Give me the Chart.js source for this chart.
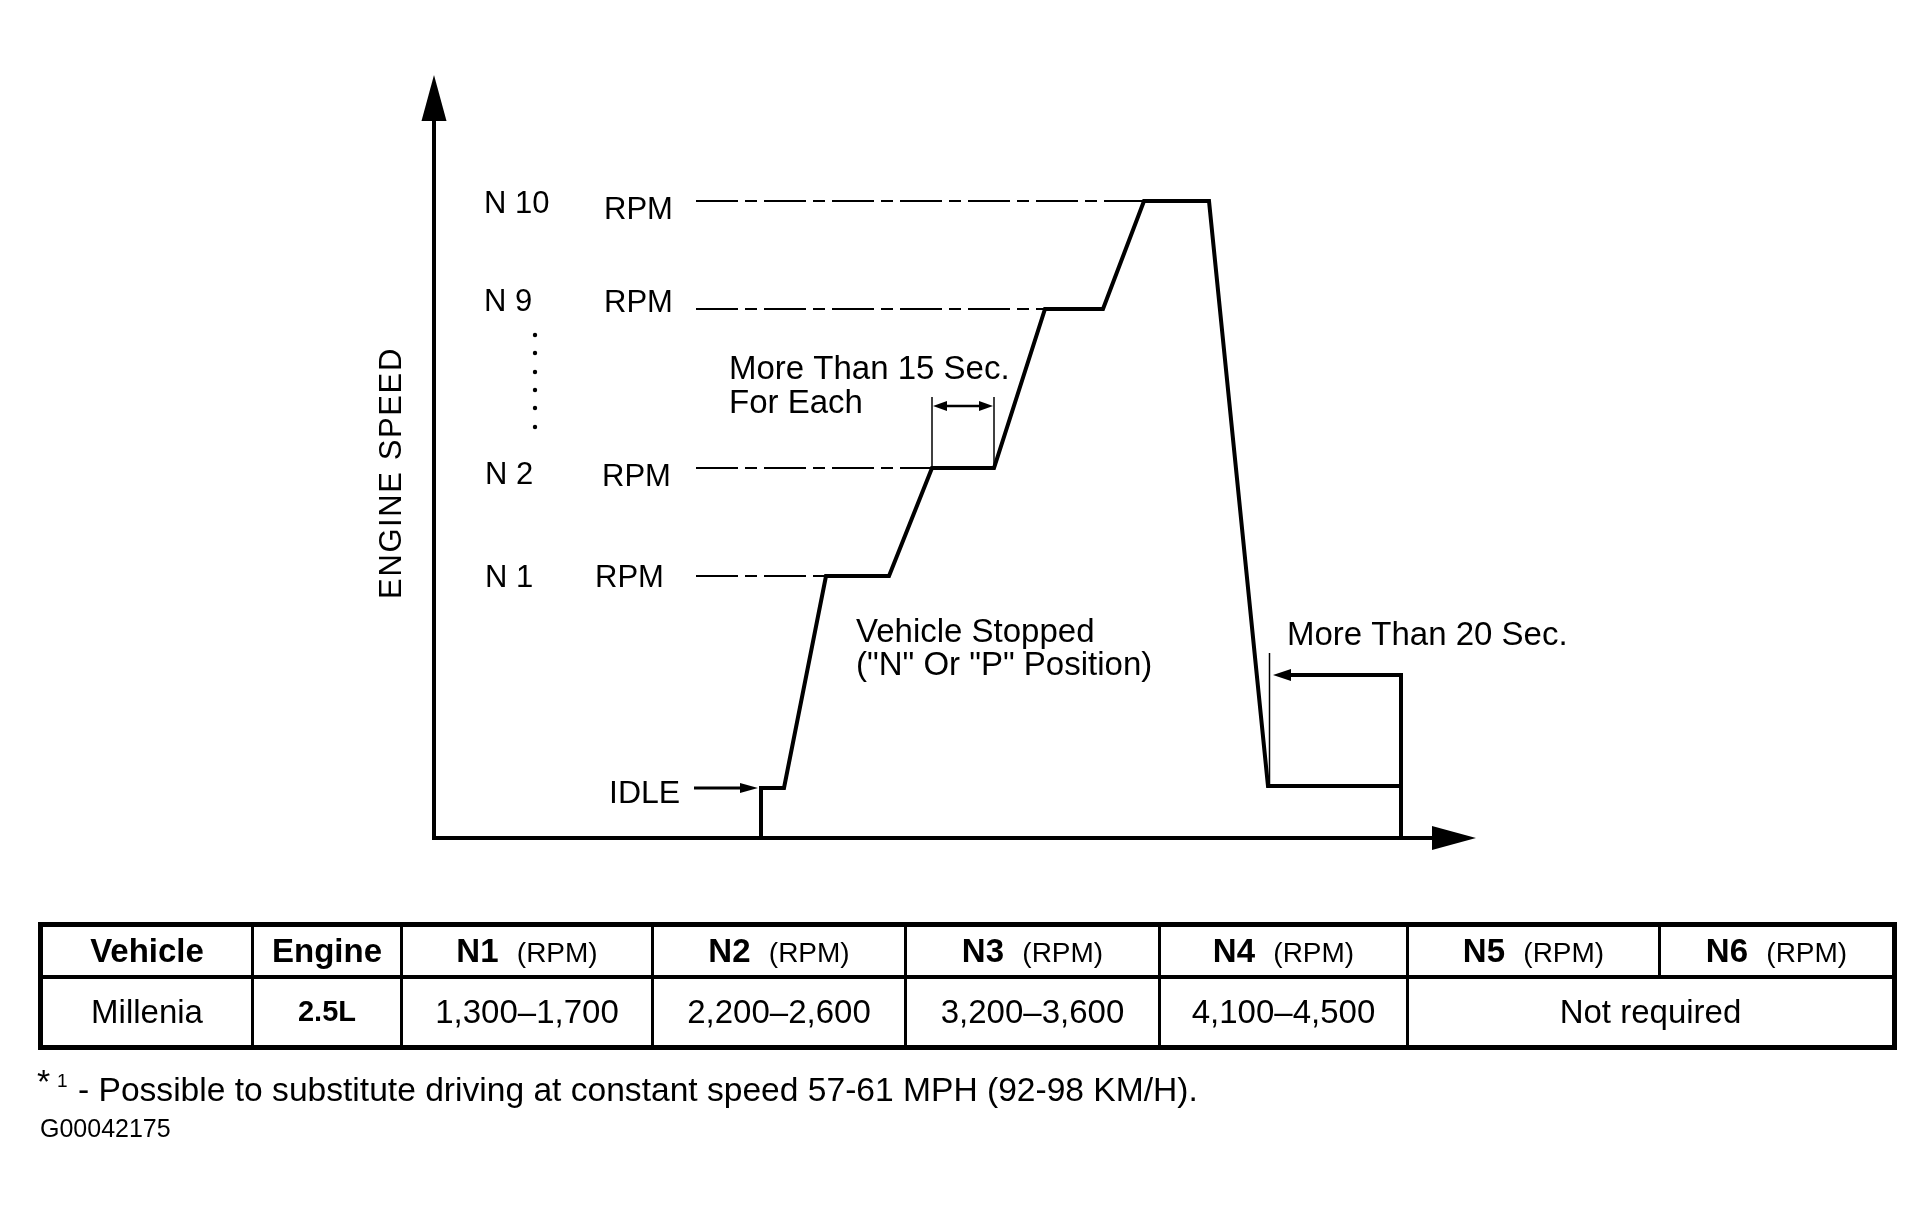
<!DOCTYPE html>
<html>
<head>
<meta charset="utf-8">
<script src="https://cdn.jsdelivr.net/npm/chart.js@4.4.1/dist/chart.umd.min.js"></script>
<style>
  body { margin: 0; background: #fff; font-family: "Liberation Sans", Arial, sans-serif; color: #000; }
  #wrap { position: relative; width: 1932px; height: 1213px; overflow: hidden; }
  #chart { position: absolute; left: 0; top: 0; }
  table { position: absolute; left: 38px; top: 922px; width: 1854px; border-collapse: collapse; table-layout: fixed; border: 5px solid #000; }
  td, th { border: 3px solid #000; padding: 0; text-align: center; vertical-align: middle; white-space: nowrap; }
  th { font-weight: bold; font-size: 33px; }
  th .rpm { font-weight: normal; font-size: 28px; }
  tr.head { height: 52px; }
  tr.head th { border-bottom-width: 4px; }
  tr.row { height: 71px; }
  td { font-size: 33px; }
  td.eng { font-weight: bold; font-size: 29px; }
  .note { position: absolute; white-space: nowrap; }
</style>
</head>
<body>
<div id="wrap">
  <canvas id="chart" width="1932" height="1213"></canvas>
  <table id="spec"></table>
  <div class="note" style="left:37px; top:1064px; font-size:34px; line-height:34px;">*</div>
  <div class="note" style="left:57px; top:1071px; font-size:19px; line-height:19px;">1</div>
  <div class="note" style="left:78px; top:1073px; font-size:33.6px; line-height:33.6px;">- Possible to substitute driving at constant speed 57-61 MPH (92-98 KM/H).</div>
  <div class="note" style="left:40px; top:1116px; font-size:25px; line-height:25px;">G00042175</div>
</div>
<script>
// engine speed trace (schematic time / speed units)
const timeSteps   = [32.7, 32.7, 35.0, 39.2, 45.5, 49.8, 56.0, 61.1, 66.9, 71.0, 77.5, 83.4, 96.7, 96.7];
const engineSpeed = [0,    5.0,  5.0,  26.2, 26.2, 37.0, 37.0, 52.9, 52.9, 63.7, 63.7, 5.2,  5.2,  0];

// reference levels drawn as dash-dot lines
const levelNames  = ['N 1', 'N 2', 'N 9', 'N 10'];
const levelValues = [26.2, 37.0, 52.9, 63.7];
const levelEnds   = [39.2, 49.8, 61.1, 71.0];
const levelStart  = 26.2;

// table
const tableHeads = ['Vehicle', 'Engine', 'N1', 'N2', 'N3', 'N4', 'N5', 'N6'];
const tableRow   = ['Millenia', '2.5L', '1,300\u20131,700', '2,200\u20132,600', '3,200\u20133,600', '4,100\u20134,500', 'Not required'];
const colWidths  = [212, 149, 251, 253, 254, 248, 252, 235];

// build table
const tbl = document.getElementById('spec');
let html = '<colgroup>' + colWidths.map(w => '<col style="width:' + w + 'px">').join('') + '</colgroup>';
html += '<tr class="head">' + tableHeads.map((h, i) =>
  i < 2 ? '<th>' + h + '</th>' : '<th>' + h + '&nbsp; <span class="rpm">(RPM)</span></th>').join('') + '</tr>';
html += '<tr class="row">' + tableRow.map((v, i) =>
  i === 1 ? '<td class="eng">' + v + '</td>' : (i === 6 ? '<td colspan="2">' + v + '</td>' : '<td>' + v + '</td>')).join('') + '</tr>';
tbl.innerHTML = html;

const FONT = '"Liberation Sans", Arial, sans-serif';

function seg(ctx, x1, y1, x2, y2) {
  ctx.beginPath(); ctx.moveTo(x1, y1); ctx.lineTo(x2, y2); ctx.stroke();
}
function head(ctx, tx, ty, dx, dy, len, half) {
  const bx = tx - dx * len, by = ty - dy * len;
  ctx.beginPath();
  ctx.moveTo(tx, ty);
  ctx.lineTo(bx - dy * half, by + dx * half);
  ctx.lineTo(bx + dy * half, by - dx * half);
  ctx.closePath(); ctx.fill();
}

const drawing = {
  id: 'drawing',
  afterDatasetsDraw(chart) {
    const { ctx, chartArea: a, scales: { x, y } } = chart;
    const X = v => x.getPixelForValue(v), Y = v => y.getPixelForValue(v);
    ctx.save();
    ctx.fillStyle = '#000';
    ctx.strokeStyle = '#000';
    ctx.lineCap = 'butt';

    // axes with arrow heads
    ctx.lineWidth = 4;
    seg(ctx, a.left, a.bottom + 2, a.left, a.top + 40);
    seg(ctx, a.left - 2, a.bottom, a.right - 40, a.bottom);
    head(ctx, a.left, a.top, 0, -1, 46, 12.5);
    head(ctx, a.right, a.bottom, 1, 0, 44, 12);

    // idle arrow
    const idleY = Y(engineSpeed[1]);
    ctx.lineWidth = 3;
    seg(ctx, 694, idleY, 745, idleY);
    head(ctx, X(timeSteps[1]) - 3, idleY, 1, 0, 18, 5);

    // "more than 15 sec" bracket on the N2 plateau
    const bx1 = X(timeSteps[5]), bx2 = X(timeSteps[6]), by = Y(43.2);
    ctx.lineWidth = 1.5;
    seg(ctx, bx1, Y(44.1), bx1, Y(engineSpeed[5]));
    seg(ctx, bx2, Y(44.1), bx2, Y(engineSpeed[6]));
    ctx.lineWidth = 2.5;
    seg(ctx, bx1 + 10, by, bx2 - 10, by);
    head(ctx, bx1 + 1, by, -1, 0, 14, 5);
    head(ctx, bx2 - 1, by, 1, 0, 14, 5);

    // "more than 20 sec" arrow
    const rx = X(timeSteps[12]), ry = Y(16.3);
    ctx.lineWidth = 4;
    seg(ctx, rx, Y(engineSpeed[12]), rx, ry - 2);
    seg(ctx, rx + 2, ry, X(83.9) + 14, ry);
    head(ctx, X(83.9), ry, -1, 0, 18, 6);
    ctx.lineWidth = 1.5;
    seg(ctx, X(83.55), Y(18.5), X(83.55), Y(engineSpeed[11]));

    // vertical dots between N 2 and N 9
    [335, 353, 372, 390, 408, 427].forEach(py => {
      ctx.beginPath(); ctx.arc(535, py, 2.2, 0, Math.PI * 2); ctx.fill();
    });

    // level labels
    ctx.textAlign = 'left';
    ctx.textBaseline = 'alphabetic';
    ctx.font = '31px ' + FONT;
    const lab = [
      ['N 10', 484, 213], ['RPM', 604, 219],
      ['N 9', 484, 311], ['RPM', 604, 312],
      ['N 2', 485, 484], ['RPM', 602, 486],
      ['N 1', 485, 587], ['RPM', 595, 587]
    ];
    lab.forEach(t => ctx.fillText(t[0], t[1], t[2]));
    ctx.font = '32px ' + FONT;
    ctx.fillText('IDLE', 609, 803);

    ctx.font = '33px ' + FONT;
    const notes = [
      ['More Than 15 Sec.', 729, 379], ['For Each', 729, 413],
      ['Vehicle Stopped', 856, 642], ['("N" Or "P" Position)', 856, 675],
      ['More Than 20 Sec.', 1287, 645]
    ];
    notes.forEach(t => ctx.fillText(t[0], t[1], t[2]));

    // axis title
    ctx.translate(392, 473);
    ctx.rotate(-Math.PI / 2);
    ctx.textAlign = 'center';
    ctx.textBaseline = 'middle';
    ctx.font = '31px ' + FONT;
    ctx.letterSpacing = '1.6px';
    ctx.fillText('ENGINE SPEED', 0, 0);
    ctx.restore();
  }
};

const traceData = timeSteps.map((t, i) => ({ x: t, y: engineSpeed[i] }));
const levelSets = levelValues.map((v, i) => ({
  label: levelNames[i] + ' RPM',
  data: [{ x: levelStart, y: v }, { x: levelEnds[i], y: v }],
  borderColor: '#000',
  borderWidth: 2,
  borderDash: [42, 7, 12, 7],
  pointRadius: 0
}));

new Chart(document.getElementById('chart'), {
  type: 'line',
  data: {
    datasets: [{
      label: 'Engine speed',
      data: traceData,
      borderColor: '#000',
      borderWidth: 4,
      borderJoinStyle: 'miter',
      pointRadius: 0,
      tension: 0
    }].concat(levelSets)
  },
  options: {
    responsive: false,
    animation: false,
    events: [],
    layout: { padding: { left: 434, top: 75, right: 456, bottom: 375 } },
    scales: {
      x: { type: 'linear', min: 0, max: 104.2, display: false },
      y: { type: 'linear', min: 0, max: 76.3, display: false }
    },
    plugins: {
      legend: { display: false },
      tooltip: { enabled: false }
    }
  },
  plugins: [drawing]
});
</script>
</body>
</html>
